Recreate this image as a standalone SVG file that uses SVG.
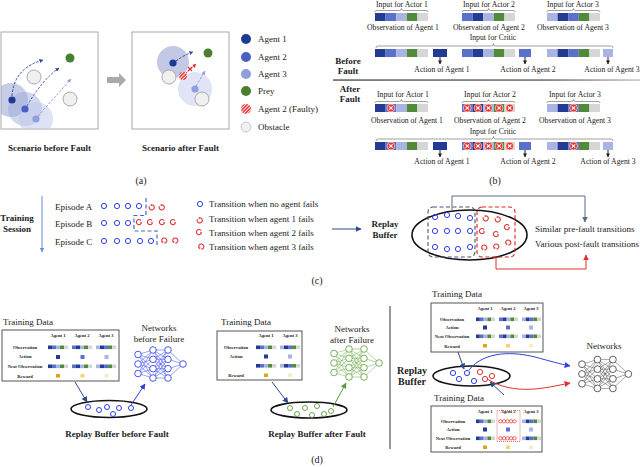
<svg xmlns="http://www.w3.org/2000/svg" width="640" height="467" viewBox="0 0 640 467">
<style>
text{font-family:"Liberation Serif","Times New Roman",serif;fill:#222}
.b{font-weight:bold}
.s9{font-size:9px}
.s10{font-size:10px}
.s8{font-size:7.7px}
.t{font-size:4.6px;font-weight:bold}
.m{text-anchor:middle}
.box{fill:#fff;stroke:#a8a8a8;stroke-width:1}
.tbl{fill:#fff;stroke:#555;stroke-width:1}
.br{fill:none;stroke:#777;stroke-width:0.7}
.bc{fill:none;stroke:#2d3ee8;stroke-width:1}
.rc{fill:none;stroke:#e03030;stroke-width:1}
.gc{fill:none;stroke:#5c9a3c;stroke-width:0.9}
.obs{fill:#f0f0f0;stroke:#aaa;stroke-width:1}
.ell{fill:none;stroke:#111;stroke-width:1.6}
.ar{fill:none;stroke-width:1}
</style>
<defs>
<marker id="mNavy" viewBox="0 0 10 10" refX="9" refY="5" markerWidth="6" markerHeight="6" markerUnits="userSpaceOnUse" orient="auto"><path d="M0 0L10 5L0 10z" fill="#2b4a8a"/></marker>
<marker id="mBlue" viewBox="0 0 10 10" refX="9" refY="5" markerWidth="6" markerHeight="6" markerUnits="userSpaceOnUse" orient="auto"><path d="M0 0L10 5L0 10z" fill="#2f3fe0"/></marker>
<marker id="mRed" viewBox="0 0 10 10" refX="9" refY="5" markerWidth="6" markerHeight="6" markerUnits="userSpaceOnUse" orient="auto"><path d="M0 0L10 5L0 10z" fill="#e03030"/></marker>
<marker id="mGray" viewBox="0 0 10 10" refX="9" refY="5" markerWidth="6" markerHeight="6" markerUnits="userSpaceOnUse" orient="auto"><path d="M0 0L10 5L0 10z" fill="#5f6b85"/></marker>
<marker id="mGreen" viewBox="0 0 10 10" refX="9" refY="5" markerWidth="6" markerHeight="6" markerUnits="userSpaceOnUse" orient="auto"><path d="M0 0L10 5L0 10z" fill="#5c9a3c"/></marker>
<marker id="mLb" viewBox="0 0 10 10" refX="9" refY="5" markerWidth="5" markerHeight="5" markerUnits="userSpaceOnUse" orient="auto"><path d="M0 0L10 5L0 10z" fill="#6f8fd6"/></marker>
<marker id="mBlk" viewBox="0 0 10 10" refX="9" refY="5" markerWidth="4" markerHeight="4" markerUnits="userSpaceOnUse" orient="auto"><path d="M0 0L10 5L0 10z" fill="#222"/></marker>
<marker id="mD1" viewBox="0 0 10 10" refX="9" refY="5" markerWidth="4" markerHeight="4" markerUnits="userSpaceOnUse" orient="auto"><path d="M0 0L10 5L0 10z" fill="#2c45a8"/></marker>
<marker id="mD3" viewBox="0 0 10 10" refX="9" refY="5" markerWidth="4" markerHeight="4" markerUnits="userSpaceOnUse" orient="auto"><path d="M0 0L10 5L0 10z" fill="#8f9fdb"/></marker>
<marker id="mDr" viewBox="0 0 10 10" refX="9" refY="5" markerWidth="4" markerHeight="4" markerUnits="userSpaceOnUse" orient="auto"><path d="M0 0L10 5L0 10z" fill="#e03030"/></marker>
<pattern id="hatch" width="2.4" height="2.4" patternUnits="userSpaceOnUse" patternTransform="rotate(45)"><rect width="2.4" height="2.4" fill="#f03a3a"/><rect width="0.8" height="2.4" fill="#fff"/></pattern>
<clipPath id="c1"><rect x="1" y="32" width="97" height="97"/></clipPath>
<clipPath id="c2"><rect x="132" y="32" width="97" height="97"/></clipPath>
<linearGradient id="sep" x1="0" x2="1" y1="0" y2="0"><stop offset="0" stop-color="#444"/><stop offset="0.7" stop-color="#555"/><stop offset="1" stop-color="#bbb"/></linearGradient>
<g id="o1"><rect x="0" width="10.6" height="8" fill="#243b94"/><rect x="10.6" width="10.6" height="8" fill="#5b70cc"/><rect x="21.2" width="10.6" height="8" fill="#a9b4e4"/><rect x="31.8" width="10.6" height="8" fill="#518a3b"/><rect x="42.4" width="10.6" height="8" fill="#d6d6d6"/></g>
<g id="o2"><rect x="0" width="10.6" height="8" fill="#5b70cc"/><rect x="10.6" width="10.6" height="8" fill="#243b94"/><rect x="21.2" width="10.6" height="8" fill="#a9b4e4"/><rect x="31.8" width="10.6" height="8" fill="#518a3b"/><rect x="42.4" width="10.6" height="8" fill="#d6d6d6"/></g>
<g id="o3"><rect x="0" width="10.6" height="8" fill="#a9b4e4"/><rect x="10.6" width="10.6" height="8" fill="#243b94"/><rect x="21.2" width="10.6" height="8" fill="#5b70cc"/><rect x="31.8" width="10.6" height="8" fill="#518a3b"/><rect x="42.4" width="10.6" height="8" fill="#d6d6d6"/></g>
<g id="x"><circle r="3.9" fill="#e8302e" stroke="#fff" stroke-width="0.6"/><path d="M-1.7 -1.7L1.7 1.7M1.7 -1.7L-1.7 1.7" stroke="#fff" stroke-width="1.2"/></g>
<path id="rt" d="M-0.8 0L-0.8 -1.2 A2.6 2.6 0 1 1 -2.6 0.2" fill="none" stroke="#e03030" stroke-width="1.1"/>
<g id="net">
<path d="M0 -9.5L15 -14M0 -9.5L15 -4.7M0 -9.5L15 4.7M0 -9.5L15 14M0 0L15 -14M0 0L15 -4.7M0 0L15 4.7M0 0L15 14M0 9.5L15 -14M0 9.5L15 -4.7M0 9.5L15 4.7M0 9.5L15 14M15 -14L30 -14M15 -14L30 -4.7M15 -14L30 4.7M15 -14L30 14M15 -4.7L30 -14M15 -4.7L30 -4.7M15 -4.7L30 4.7M15 -4.7L30 14M15 4.7L30 -14M15 4.7L30 -4.7M15 4.7L30 4.7M15 4.7L30 14M15 14L30 -14M15 14L30 -4.7M15 14L30 4.7M15 14L30 14M30 -14L45 0M30 -4.7L45 0M30 4.7L45 0M30 14L45 0" fill="none" stroke-width="0.5"/>
<g fill="#fff" stroke-width="0.9"><circle cx="0" cy="-9.5" r="3.3"/><circle cx="0" cy="0" r="3.3"/><circle cx="0" cy="9.5" r="3.3"/><circle cx="15" cy="-14" r="3.3"/><circle cx="15" cy="-4.7" r="3.3"/><circle cx="15" cy="4.7" r="3.3"/><circle cx="15" cy="14" r="3.3"/><circle cx="30" cy="-14" r="3.3"/><circle cx="30" cy="-4.7" r="3.3"/><circle cx="30" cy="4.7" r="3.3"/><circle cx="30" cy="14" r="3.3"/><circle cx="45" cy="0" r="3.3"/></g>
</g>
</defs>
<rect width="640" height="467" fill="#fff"/>

<!-- Panel (a) -->
<g id="a-before">
<rect class="box" x="1" y="32" width="97" height="97"/>
<g clip-path="url(#c1)">
<circle cx="11" cy="100" r="17" fill="#8f9bcf" fill-opacity="0.5"/>
<circle cx="25" cy="109" r="17" fill="#9aa6d8" fill-opacity="0.45"/>
<circle cx="36" cy="119" r="17" fill="#c3cbec" fill-opacity="0.55"/>
</g>
<circle class="obs" cx="34" cy="77" r="7"/>
<circle class="obs" cx="70" cy="99" r="7"/>
<circle cx="70" cy="58" r="4.5" fill="#4b7f2f"/>
<path d="M12 96Q14 68 43 60" class="ar" stroke="#2c45a8" stroke-dasharray="2.5 1.5" marker-end="url(#mD1)"/>
<path d="M27 106Q42 80 59 68" class="ar" stroke="#4a5fc1" stroke-dasharray="2.5 1.5" marker-end="url(#mD1)"/>
<path d="M38 116L71 79" class="ar" stroke="#8f9fdb" stroke-dasharray="2.5 1.5" marker-end="url(#mD3)"/>
<circle cx="12" cy="100" r="3.6" fill="#1f3a93"/>
<circle cx="25" cy="109" r="3.6" fill="#4a5fc1"/>
<circle cx="36" cy="119" r="3.6" fill="#8f9fdb"/>
<text class="s9 b m" x="49.5" y="151">Scenario before Fault</text>
</g>
<g id="a-arrow"><path d="M107 77L119 77L119 73L126 80L119 87L119 83L107 83Z" fill="#aaa"/></g>
<g id="a-after">
<rect class="box" x="132" y="32" width="97" height="97"/>
<g clip-path="url(#c2)">
<circle cx="173" cy="62" r="16" fill="#c3c9e5"/>
<circle cx="195" cy="89" r="17" fill="#e0e4f5"/>
</g>
<circle class="obs" cx="169" cy="77" r="7"/>
<circle class="obs" cx="202" cy="99" r="7"/>
<circle cx="208" cy="53" r="4.5" fill="#4b7f2f"/>
<path d="M176 61Q184 55 193 52" class="ar" stroke="#2c45a8" stroke-dasharray="2.5 1.5" marker-end="url(#mD1)"/>
<path d="M186 73L196 64" class="ar" stroke="#e03030" stroke-dasharray="2 1.5" marker-end="url(#mDr)"/>
<path d="M188 67L192 71M192 67L188 71" stroke="#e03030" stroke-width="1.1"/>
<path d="M196 86L205 71" class="ar" stroke="#8f9fdb" stroke-dasharray="2.5 1.5" marker-end="url(#mD3)"/>
<circle cx="173" cy="63" r="3.6" fill="#1f3a93"/>
<circle cx="183" cy="76" r="3.9" fill="url(#hatch)"/>
<circle cx="195" cy="89" r="3.6" fill="#8f9fdb"/>
<text class="s9 b m" x="180.5" y="151">Scenario after Fault</text>
</g>
<g id="a-legend">
<circle cx="246" cy="39" r="5" fill="#1f3a93"/><text class="s9" x="258" y="42">Agent 1</text>
<circle cx="246" cy="57" r="5" fill="#4a5fc1"/><text class="s9" x="258" y="60">Agent 2</text>
<circle cx="246" cy="74" r="5" fill="#8f9fdb"/><text class="s9" x="258" y="77">Agent 3</text>
<circle cx="246" cy="91" r="5" fill="#4b7f2f"/><text class="s9" x="258" y="94">Prey</text>
<circle cx="246" cy="109" r="5" fill="url(#hatch)"/><text class="s9" x="258" y="112">Agent 2 (Faulty)</text>
<circle cx="246" cy="127" r="5" fill="#f0f0f0" stroke="#bbb" stroke-width="0.8"/><text class="s9" x="258" y="130">Obstacle</text>
</g>
<text id="cap-a" class="s10 m" x="141" y="184">(a)</text>

<!-- Panel (b) -->
<g id="b-before">
<text class="s9 b m" x="348" y="64">Before</text>
<text class="s9 b m" x="348" y="74">Fault</text>
<text class="s8 m" x="402" y="7">Input for Actor 1</text>
<path class="br" d="M375 12Q375 10.5 377 10.5L399.5 10.5Q401.5 10.5 401.5 8.5Q401.5 10.5 403.5 10.5L426 10.5Q428 10.5 428 12"/>
<use href="#o1" x="375" y="13"/>
<text class="s8 m" x="403" y="30">Observation of Agent 1</text>
<text class="s8 m" x="489" y="7">Input for Actor 2</text>
<path class="br" d="M462 12Q462 10.5 464 10.5L486.5 10.5Q488.5 10.5 488.5 8.5Q488.5 10.5 490.5 10.5L513 10.5Q515 10.5 515 12"/>
<use href="#o2" x="462" y="13"/>
<text class="s8 m" x="489" y="30">Observation of Agent 2</text>
<text class="s8 m" x="573" y="7">Input for Actor 3</text>
<path class="br" d="M547 12Q547 10.5 549 10.5L571.5 10.5Q573.5 10.5 573.5 8.5Q573.5 10.5 575.5 10.5L598 10.5Q600 10.5 600 12"/>
<use href="#o3" x="547" y="13"/>
<text class="s8 m" x="573" y="30">Observation of Agent 3</text>
<text class="s8 m" x="493" y="40">Input for Critic</text>
<path class="br" d="M376 48Q376 46 378 46L491.5 46Q493.5 46 493.5 43.5Q493.5 46 495.5 46L611 46Q613 46 613 48"/>
<use href="#o1" x="375" y="49"/>
<rect x="433" y="49" width="14" height="8" fill="#243b94"/>
<use href="#o2" x="462" y="49"/>
<rect x="519" y="49" width="12" height="8" fill="#5b70cc"/>
<use href="#o3" x="547" y="49"/>
<rect x="603" y="49" width="10" height="8" fill="#a9b4e4"/>
<text class="s8 m" x="442" y="72">Action of Agent 1</text>
<text class="s8 m" x="528" y="72">Action of Agent 2</text>
<text class="s8 m" x="612" y="72">Action of Agent 3</text>
</g>
<rect id="b-sep" x="333" y="79.4" width="307" height="1.3" fill="url(#sep)"/>
<g id="b-after">
<text class="s9 b m" x="350" y="92">After</text>
<text class="s9 b m" x="350" y="102">Fault</text>
<text class="s8 m" x="403" y="97">Input for Actor 1</text>
<path class="br" d="M375 103Q375 101.5 377 101.5L399.5 101.5Q401.5 101.5 401.5 99.5Q401.5 101.5 403.5 101.5L426 101.5Q428 101.5 428 103"/>
<use href="#o1" x="375" y="104"/>
<use href="#x" x="390.9" y="108"/>
<text class="s8 m" x="407" y="123">Observation of Agent 1</text>
<text class="s8 m" x="490" y="97">Input for Actor 2</text>
<path class="br" d="M462 103Q462 101.5 464 101.5L486.5 101.5Q488.5 101.5 488.5 99.5Q488.5 101.5 490.5 101.5L513 101.5Q515 101.5 515 103"/>
<use href="#o2" x="462" y="104"/>
<use href="#x" x="467.3" y="108"/><use href="#x" x="477.9" y="108"/><use href="#x" x="488.5" y="108"/><use href="#x" x="499.1" y="108"/><use href="#x" x="509.7" y="108"/>
<text class="s8 m" x="490" y="123">Observation of Agent 2</text>
<text class="s8 m" x="575" y="97">Input for Actor 3</text>
<path class="br" d="M547 103Q547 101.5 549 101.5L571.5 101.5Q573.5 101.5 573.5 99.5Q573.5 101.5 575.5 101.5L598 101.5Q600 101.5 600 103"/>
<use href="#o3" x="547" y="104"/>
<use href="#x" x="573.5" y="108"/>
<text class="s8 m" x="575" y="123">Observation of Agent 3</text>
<text class="s8 m" x="493" y="134">Input for Critic</text>
<path class="br" d="M376 141Q376 139 378 139L491.5 139Q493.5 139 493.5 136.5Q493.5 139 495.5 139L611 139Q613 139 613 141"/>
<use href="#o1" x="375" y="142"/>
<use href="#x" x="390.9" y="146"/>
<rect x="433" y="142" width="14" height="8" fill="#243b94"/>
<use href="#o2" x="462" y="142"/>
<use href="#x" x="467.3" y="146"/><use href="#x" x="477.9" y="146"/><use href="#x" x="488.5" y="146"/><use href="#x" x="499.1" y="146"/><use href="#x" x="509.7" y="146"/>
<rect x="519" y="142" width="12" height="8" fill="#5b70cc"/>
<use href="#o3" x="547" y="142"/>
<use href="#x" x="573.5" y="146"/>
<rect x="603" y="142" width="10" height="8" fill="#a9b4e4"/>
<text class="s8 m" x="442" y="164">Action of Agent 1</text>
<text class="s8 m" x="528" y="164">Action of Agent 2</text>
<text class="s8 m" x="608" y="164">Action of Agent 3</text>
</g>
<text id="cap-b" class="s10 m" x="495" y="184">(b)</text>

<!-- Panel (c) -->
<g id="c-session">
<text class="s9 b m" x="17" y="221">Training</text>
<text class="s9 b m" x="17" y="232">Session</text>
</g>
<g id="c-episodes">
<text class="s9" x="55" y="210">Episode A</text>
<text class="s9" x="55" y="227">Episode B</text>
<text class="s9" x="55" y="245">Episode C</text>
<g class="bc">
<circle cx="104" cy="206" r="2.6"/><circle cx="117" cy="206" r="2.6"/><circle cx="128" cy="206" r="2.6"/><circle cx="139" cy="206" r="2.6"/>
<circle cx="104" cy="223" r="2.6"/><circle cx="117" cy="223" r="2.6"/><circle cx="128" cy="223" r="2.6"/>
<circle cx="104" cy="241" r="2.6"/><circle cx="117" cy="241" r="2.6"/><circle cx="128" cy="241" r="2.6"/><circle cx="140" cy="241" r="2.6"/><circle cx="151" cy="241" r="2.6"/>
</g>
<use href="#rt" transform="translate(152 206)"/><use href="#rt" transform="translate(162 206)"/>
<use href="#rt" transform="translate(140 223) rotate(120)"/><use href="#rt" transform="translate(151 223) rotate(120)"/><use href="#rt" transform="translate(163 223) rotate(120)"/><use href="#rt" transform="translate(174 223) rotate(120)"/>
<use href="#rt" transform="translate(163 241) rotate(240)"/><use href="#rt" transform="translate(174 241) rotate(240)"/>
<path d="M146 198L146 215.5L134 215.5L134 231L157 231L157 246" fill="none" stroke="#4a68c6" stroke-width="1.2" stroke-dasharray="4 2.5"/>
</g>
<g id="c-legend">
<circle class="bc" cx="200" cy="204" r="2.6"/><text class="s9" x="209" y="207">Transition when no agent fails</text>
<use href="#rt" transform="translate(200 219)"/><text class="s9" x="209" y="222">Transition when agent 1 fails</text>
<use href="#rt" transform="translate(200 233) rotate(120)"/><text class="s9" x="209" y="236">Transition when agent 2 fails</text>
<use href="#rt" transform="translate(200 247) rotate(240)"/><text class="s9" x="209" y="250">Transition when agent 3 fails</text>
</g>
<g id="c-buffer">
<text class="s9 b m" x="385" y="227">Replay</text>
<text class="s9 b m" x="385" y="238">Buffer</text>
<ellipse class="ell" cx="469.5" cy="235" rx="57.5" ry="25"/>
<rect x="428" y="207" width="47" height="50" rx="5" fill="none" stroke="#4a5577" stroke-width="1.1" stroke-dasharray="4 2.5"/>
<rect x="477" y="207" width="38" height="50" rx="5" fill="none" stroke="#dd2222" stroke-width="1.1" stroke-dasharray="4 2.5"/>
<g class="bc">
<circle cx="435" cy="217" r="2.6"/><circle cx="447" cy="215" r="2.6"/><circle cx="458" cy="216" r="2.6"/><circle cx="470" cy="218" r="2.6"/>
<circle cx="435" cy="231" r="2.6"/><circle cx="447" cy="231" r="2.6"/><circle cx="458" cy="231" r="2.6"/><circle cx="470" cy="231" r="2.6"/>
<circle cx="435" cy="247" r="2.6"/><circle cx="447" cy="249" r="2.6"/><circle cx="458" cy="249" r="2.6"/><circle cx="470" cy="247" r="2.6"/>
</g>
<use href="#rt" transform="translate(486 217)"/><use href="#rt" transform="translate(498 218)"/><use href="#rt" transform="translate(508 228) rotate(120)"/>
<use href="#rt" transform="translate(483 232) rotate(120)"/><use href="#rt" transform="translate(497 235) rotate(120)"/>
<use href="#rt" transform="translate(483 248) rotate(240)"/><use href="#rt" transform="translate(495 247) rotate(240)"/><use href="#rt" transform="translate(507 243) rotate(240)"/>
</g>
<g id="c-notes">
<text class="s9" x="535" y="232">Similar pre-fault transitions</text>
<text class="s9" x="535" y="247">Various post-fault transitions</text>
</g>
<text id="cap-c" class="s10 m" x="317" y="284">(c)</text>

<!-- Panel (d) -->
<g id="d-table1">
<text class="s9" x="3" y="325">Training Data</text>
<rect class="tbl" x="2" y="330" width="117" height="51"/>
<text class="t m" x="58" y="337">Agent 1</text><text class="t m" x="82" y="337">Agent 2</text><text class="t m" x="106" y="337">Agent 3</text>
<text class="t m" x="25" y="348.5">Observation</text><text class="t m" x="25" y="358">Action</text><text class="t m" x="25" y="367.5">Next Observation</text><text class="t m" x="25" y="377.5">Reward</text>
<use href="#o1" transform="translate(48 345.5) scale(0.38 0.45)"/><use href="#o2" transform="translate(72 345.5) scale(0.38 0.45)"/><use href="#o3" transform="translate(96 345.5) scale(0.38 0.45)"/>
<rect x="56" y="355" width="4" height="4" fill="#243b94"/><rect x="80.5" y="355" width="4" height="4" fill="#5b70cc"/><rect x="104.5" y="355" width="4" height="4" fill="#a9b4e4"/>
<use href="#o1" transform="translate(48 364.5) scale(0.38 0.45)"/><use href="#o2" transform="translate(72 364.5) scale(0.38 0.45)"/><use href="#o3" transform="translate(96 364.5) scale(0.38 0.45)"/>
<rect x="56" y="374" width="4" height="3.5" fill="#e0a419"/><rect x="80.5" y="374" width="4" height="3.5" fill="#f7d27a"/><rect x="104.5" y="374" width="4" height="3.5" fill="#fbe9c0"/>
</g>
<g id="d-buffer1">
<ellipse class="ell" cx="109" cy="409" rx="38" ry="8.5"/>
<g class="bc"><circle cx="88" cy="407" r="2.5"/><circle cx="99" cy="410" r="2.5"/><circle cx="107" cy="407" r="2.5"/><circle cx="113" cy="414" r="2.5"/><circle cx="119" cy="408" r="2.5"/><circle cx="131" cy="408" r="2.5"/></g>
<text class="s9 b m" x="117" y="437">Replay Buffer before Fault</text>
</g>
<g id="d-net1">
<text class="s9 m" x="159" y="331">Networks</text>
<text class="s9 m" x="159" y="342">before Failure</text>
<use href="#net" transform="translate(138 364)" stroke="#3344ee"/>
</g>
<g id="d-table2">
<text class="s9" x="221" y="325">Training Data</text>
<rect class="tbl" x="217" y="331" width="85" height="49"/>
<text class="t m" x="266" y="337">Agent 1</text><text class="t m" x="290" y="337">Agent 3</text>
<text class="t m" x="236" y="348.5">Observation</text><text class="t m" x="236" y="357.5">Action</text><text class="t m" x="236" y="376.5">Reward</text>
<use href="#o1" transform="translate(256 345.5) scale(0.38 0.45)"/><use href="#o3" transform="translate(280 345.5) scale(0.38 0.45)"/>
<rect x="264" y="354.5" width="4" height="4" fill="#243b94"/><rect x="288" y="354.5" width="4" height="4" fill="#a9b4e4"/>
<use href="#o1" transform="translate(256 364) scale(0.38 0.45)"/><use href="#o3" transform="translate(280 364) scale(0.38 0.45)"/>
<rect x="264" y="373.5" width="4" height="3.5" fill="#e0a419"/><rect x="288" y="373.5" width="4" height="3.5" fill="#fbe9c0"/>
</g>
<g id="d-buffer2">
<ellipse class="ell" cx="309" cy="410" rx="38" ry="8"/>
<g class="gc"><circle cx="290" cy="408" r="2.5"/><circle cx="297" cy="414" r="2.5"/><circle cx="305" cy="408" r="2.5"/><circle cx="312" cy="415" r="2.5"/><circle cx="317" cy="406" r="2.5"/><circle cx="324" cy="414" r="2.5"/><circle cx="331" cy="411" r="2.5"/></g>
<text class="s9 b m" x="317" y="437">Replay Buffer after Fault</text>
</g>
<g id="d-net2">
<text class="s9 m" x="352" y="332">Networks</text>
<text class="s9 m" x="352" y="343">after Failure</text>
<use href="#net" transform="translate(334 363)" stroke="#6aa84a"/>
</g>
<text id="cap-d" class="s10 m" x="317" y="463">(d)</text>
<rect id="d-sep" x="389.5" y="306" width="1" height="143" fill="#333"/>
<g id="d-table3">
<text class="s9" x="432" y="297">Training Data</text>
<rect class="tbl" x="431" y="303" width="112" height="49"/>
<text class="t m" x="485" y="309.5">Agent 1</text><text class="t m" x="508" y="309.5">Agent 2</text><text class="t m" x="531" y="309.5">Agent 3</text>
<text class="t m" x="452" y="320.5">Observation</text><text class="t m" x="452" y="328.5">Action</text><text class="t m" x="452" y="337.5">Next Observation</text><text class="t m" x="452" y="347.5">Reward</text>
<use href="#o1" transform="translate(476 317.5) scale(0.36 0.45)"/><use href="#o2" transform="translate(499 317.5) scale(0.36 0.45)"/><use href="#o3" transform="translate(522 317.5) scale(0.36 0.45)"/>
<rect x="483" y="325.5" width="4" height="4" fill="#243b94"/><rect x="506" y="325.5" width="4" height="4" fill="#5b70cc"/><rect x="529" y="325.5" width="4" height="4" fill="#a9b4e4"/>
<use href="#o1" transform="translate(476 334.5) scale(0.36 0.45)"/><use href="#o2" transform="translate(499 334.5) scale(0.36 0.45)"/><use href="#o3" transform="translate(522 334.5) scale(0.36 0.45)"/>
<rect x="483" y="344" width="4" height="3.5" fill="#e0a419"/><rect x="506" y="344" width="4" height="3.5" fill="#f7d27a"/><rect x="529" y="344" width="4" height="3.5" fill="#fbe9c0"/>
</g>
<g id="d-buffer3">
<text class="s10 b m" x="412" y="374">Replay</text>
<text class="s10 b m" x="412" y="385">Buffer</text>
<ellipse class="ell" cx="471.5" cy="376" rx="38.5" ry="10"/>
<g class="bc"><circle cx="453" cy="373" r="2.6"/><circle cx="459" cy="379" r="2.6"/><circle cx="467" cy="373" r="2.6"/><circle cx="474" cy="381" r="2.6"/></g>
<g class="rc"><circle cx="480" cy="372" r="2.6"/><circle cx="485" cy="379" r="2.6"/><circle cx="492" cy="376" r="2.6"/></g>
</g>
<g id="d-table4">
<text class="s9" x="434" y="401">Training Data</text>
<rect class="tbl" x="431" y="406" width="111" height="46"/>
<text class="t m" x="485" y="412.5">Agent 1</text><text class="t m" x="508" y="412.5">Agent 2</text><text class="t m" x="531" y="412.5">Agent 3</text>
<text class="t m" x="453" y="422.5">Observation</text><text class="t m" x="453" y="430.5">Action</text><text class="t m" x="453" y="439.5">Next Observation</text><text class="t m" x="453" y="448.5">Reward</text>
<rect x="497" y="410.5" width="23" height="31" fill="none" stroke="#e03030" stroke-width="0.7" stroke-dasharray="1 1"/>
<use href="#o1" transform="translate(476 419.5) scale(0.36 0.45)"/><use href="#o3" transform="translate(522 419.5) scale(0.36 0.45)"/>
<g fill="none" stroke="#e03030" stroke-width="0.7"><circle cx="500.5" cy="421.3" r="1.7"/><circle cx="504" cy="421.3" r="1.7"/><circle cx="507.5" cy="421.3" r="1.7"/><circle cx="511" cy="421.3" r="1.7"/><circle cx="514.5" cy="421.3" r="1.7"/>
<circle cx="500.5" cy="438.3" r="1.7"/><circle cx="504" cy="438.3" r="1.7"/><circle cx="507.5" cy="438.3" r="1.7"/><circle cx="511" cy="438.3" r="1.7"/><circle cx="514.5" cy="438.3" r="1.7"/></g>
<rect x="483" y="427.5" width="4" height="4" fill="#243b94"/><rect x="506" y="427.5" width="4" height="4" fill="#5b70cc"/><rect x="529" y="427.5" width="4" height="4" fill="#a9b4e4"/>
<use href="#o1" transform="translate(476 436.5) scale(0.36 0.45)"/><use href="#o3" transform="translate(522 436.5) scale(0.36 0.45)"/>
<rect x="483" y="445.5" width="4" height="3.5" fill="#e0a419"/><rect x="506" y="445.5" width="4" height="3.5" fill="#f7d27a"/><rect x="529" y="445.5" width="4" height="3.5" fill="#fbe9c0"/>
</g>
<g id="d-net3">
<text class="s9 m" x="604" y="349">Networks</text>
<use href="#net" transform="translate(582 374) scale(1.03)" stroke="#555"/>
</g>

<!-- Connectors -->
<g id="connectors">
<path d="M440 57L440 64" class="ar" stroke="#222" marker-end="url(#mBlk)"/>
<path d="M525 57L525 64" class="ar" stroke="#222" marker-end="url(#mBlk)"/>
<path d="M608 57L608 64" class="ar" stroke="#222" marker-end="url(#mBlk)"/>
<path d="M440 150L440 157" class="ar" stroke="#222" marker-end="url(#mBlk)"/>
<path d="M525 150L525 157" class="ar" stroke="#222" marker-end="url(#mBlk)"/>
<path d="M608 150L608 157" class="ar" stroke="#222" marker-end="url(#mBlk)"/>
<path d="M42 196L42 252" class="ar" stroke="#6f8fd6" marker-end="url(#mLb)"/>
<path d="M332 229L361 229" class="ar" stroke="#2b4a8a" marker-end="url(#mNavy)"/>
<path d="M452 210L452 196L585 196L585 222" class="ar" stroke="#5f6b85" marker-end="url(#mGray)"/>
<path d="M496 257L496 269L586 269L586 255" class="ar" stroke="#e03030" marker-end="url(#mRed)"/>
<path d="M75 382L87 402" class="ar" stroke="#2b4a8a" marker-end="url(#mNavy)"/>
<path d="M131 405L145 384" class="ar" stroke="#2f3fe0" marker-end="url(#mBlue)"/>
<path d="M272 382L288 403" class="ar" stroke="#2b4a8a" marker-end="url(#mNavy)"/>
<path d="M333 407L346 383" class="ar" stroke="#5c9a3c" marker-end="url(#mGreen)"/>
<path d="M458 352L464 369" class="ar" stroke="#2b4a8a" marker-end="url(#mNavy)"/>
<path d="M504 395L490 382" class="ar" stroke="#2b4a8a" marker-end="url(#mNavy)"/>
<path d="M469 370C485 350 515 352 535 357C550 361 560 364 570 366" class="ar" stroke="#2f3fe0" stroke-width="1.2" marker-end="url(#mBlue)"/>
<path d="M487 379C515 396 545 388 570 383" class="ar" stroke="#e03030" stroke-width="1.2" marker-end="url(#mRed)"/>
</g>
</svg>
